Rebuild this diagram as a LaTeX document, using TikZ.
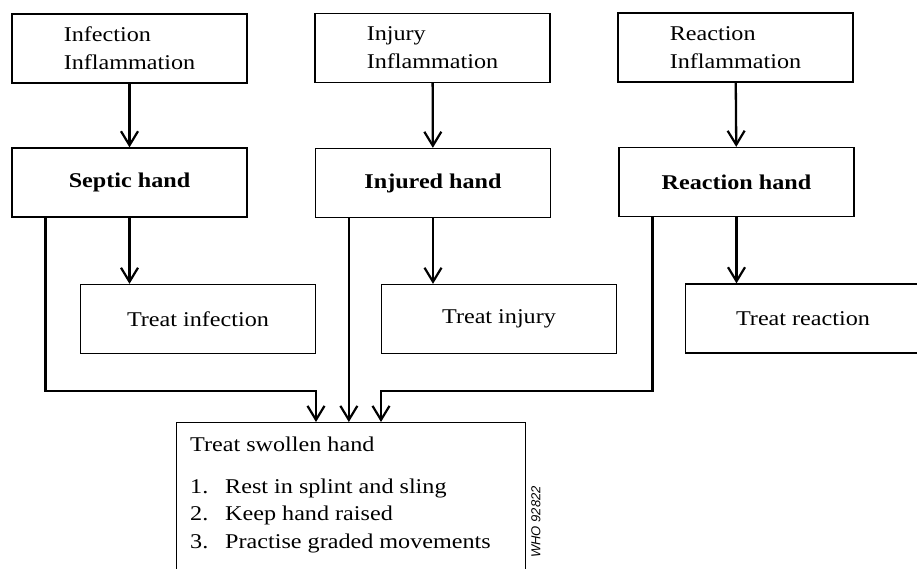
\documentclass[tikz,border=0pt]{standalone}
\usepackage{fontspec}
\setmainfont{Liberation Serif}[FakeStretch=1.15]
\setsansfont{Liberation Sans}
\usetikzlibrary{positioning,arrows.meta}
\tikzset{box/.style={draw,line width=1.3pt,minimum width=235pt,minimum height=69pt,inner sep=0pt,font=\fontsize{21}{28}\selectfont},
         srcbox/.style={box,align=left},
         handbox/.style={box,font=\fontsize{21}{28}\selectfont\bfseries},
         treatbox/.style={box},
         txt/.style={anchor=base west,inner sep=0pt,font=\fontsize{21}{28}\selectfont},
         arr/.style={-{Straight Barb[length=14pt,width=17pt,line width=2.2pt]},line width=2.3pt}}

\begin{document}
\begin{tikzpicture}[x=1pt,y=-1pt]
 \useasboundingbox (0,0) rectangle (917,568);
 \node[srcbox] (inf) at (129.5,48.5) {Infection\\Inflammation};
 \node[srcbox] (inj) at (432.5,48) {Injury\\Inflammation};
 \node[srcbox] (rea) at (735.5,47.5) {Reaction\\Inflammation};
 \node[handbox] (septic) at (129.5,182.5) {Septic hand};
 \node[handbox] (injured) at (433,183) {Injured hand};
 \node[handbox] (reaction) at (736.5,182) {Reaction hand};
 \node[treatbox] (tinf) at (198,319) {Treat infection};
 \node[treatbox] (tinj) at (499,319) {Treat injury};
 \node[treatbox] (trea) at (803,318.5) {Treat reaction};
 % swollen hand box, runs off the bottom
 \node[draw,line width=1.3pt,minimum width=349pt,minimum height=180pt,inner sep=0pt,anchor=north west] (swol) at (176,422) {};
 \node[txt] (swtitle) at (190,451) {Treat swollen hand};
 \foreach \t [count=\i] in {Rest in splint and sling,Keep hand raised,Practise graded movements}{
   \node[txt] (num\i) at (190,465.5+27.5*\i) {\i.};
   \node[txt] (item\i) at (225,465.5+27.5*\i) {\t};
 }
 \node[rotate=90,anchor=west,inner sep=0pt,font=\sffamily\itshape\fontsize{13}{13}\selectfont] (who) at (536,558) {WHO 92822};
 \coordinate (jl) at (316,391);
 \coordinate (jr) at (381,391);
 \draw[arr] (inf) -- (septic); \draw[arr] (inj) -- (injured); \draw[arr] (rea) -- (reaction);
 \draw[arr] (septic.south) -- (septic.south |- tinf.north);
 \draw[arr] (injured.south) -- (injured.south |- tinj.north);
 \draw[arr] (reaction.south) -- (reaction.south |- trea.north);
 \draw[arr] ([xshift=34]septic.south west) |- (jl) -- (jl |- swol.north);
 \draw[arr] ([xshift=34]injured.south west) -- ([xshift=34]injured.south west |- swol.north);
 \draw[arr] ([xshift=34]reaction.south west) |- (jr) -- (jr |- swol.north);
\end{tikzpicture}
\end{document}
